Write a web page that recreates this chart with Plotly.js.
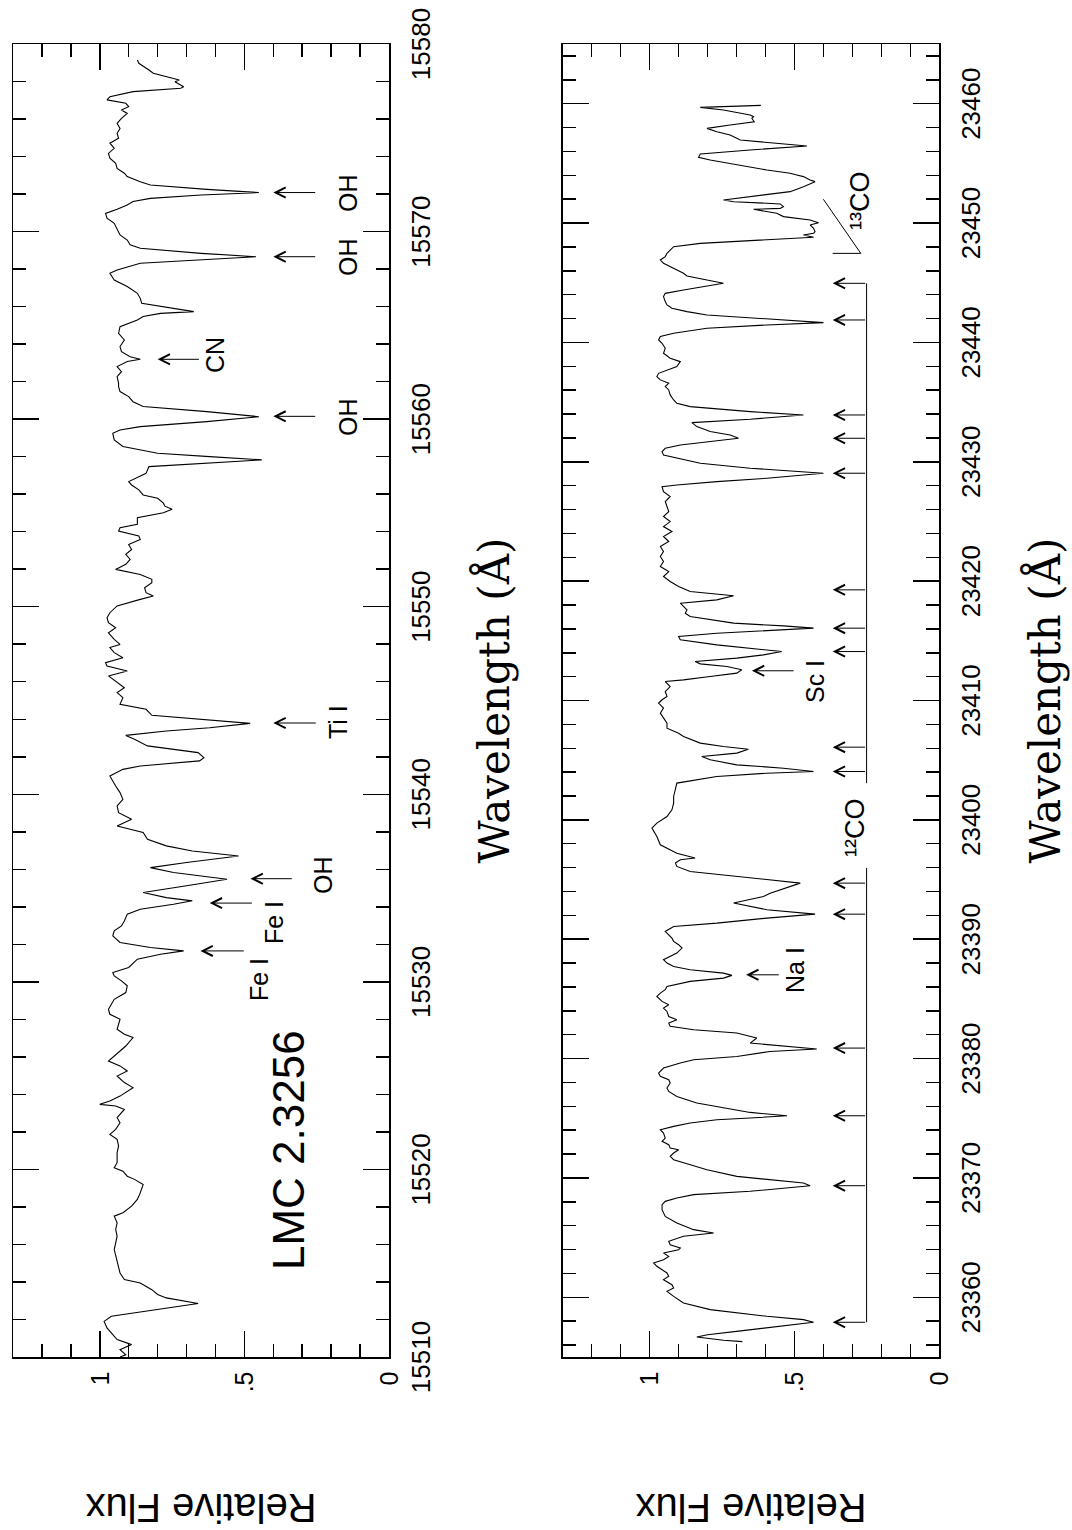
<!DOCTYPE html>
<html>
<head>
<meta charset="utf-8">
<script src="https://cdn.plot.ly/plotly-3.0.1.min.js"></script>
<style>
  html, body { margin: 0; padding: 0; background: #fff; }
  body { width: 1072px; height: 1530px; overflow: hidden; position: relative; }
  /* the chart is drawn landscape and turned a quarter turn, like the printed page */
  #chart {
    position: absolute; left: 0; top: 0;
    width: 1530px; height: 1072px;
    transform-origin: 0 0;
    transform: translate(0px, 1530px) rotate(-90deg);
  }
</style>
</head>
<body>
<div id="chart"></div>
<script>
// top panel: LMC 2.3256, H band
var wave1 = [
  15510.00,15510.12,15510.39,15510.66,15510.93,15511.28,15511.55,15511.90,15512.17,15512.85,
  15513.15,15513.33,15513.59,15513.95,15514.13,15514.48,15514.84,15515.20,15515.73,15516.09,
  15516.44,15516.80,15517.15,15517.51,15517.69,15518.04,15518.40,15518.75,15519.20,15519.47,
  15519.64,15519.91,15520.09,15520.36,15520.89,15521.25,15521.60,15521.87,15522.14,15522.49,
  15522.76,15523.20,15523.38,15523.47,15523.65,15523.91,15524.36,15524.63,15524.98,15525.25,
  15525.52,15525.78,15526.05,15526.58,15527.03,15527.21,15527.47,15528.01,15528.27,15528.54,
  15529.07,15529.43,15529.79,15530.05,15530.32,15530.50,15530.77,15531.21,15531.47,15531.65,
  15531.83,15532.10,15532.45,15532.72,15532.98,15533.25,15533.61,15533.87,15534.14,15534.32,
  15534.49,15534.76,15535.12,15535.47,15535.83,15536.09,15536.36,15536.71,15536.98,15537.25,
  15537.60,15537.96,15538.31,15538.67,15539.02,15539.38,15539.73,15540.09,15540.44,15540.98,
  15541.33,15541.51,15541.78,15541.95,15542.22,15542.58,15542.93,15543.14,15543.37,15543.55,
  15543.78,15544.00,15544.21,15544.53,15544.80,15545.15,15545.42,15545.68,15545.95,15546.31,
  15546.57,15546.84,15547.02,15547.28,15547.55,15547.82,15547.99,15548.26,15548.61,15548.88,
  15549.15,15549.41,15549.68,15550.04,15550.39,15550.57,15550.75,15551.01,15551.28,15551.46,
  15551.72,15551.99,15552.26,15552.52,15552.79,15553.05,15553.32,15553.59,15553.77,15554.03,
  15554.21,15554.39,15554.56,15554.74,15555.01,15555.19,15555.36,15555.52,15555.78,15555.96,
  15556.23,15556.49,15556.67,15556.94,15557.11,15557.47,15557.65,15557.83,15558.00,15558.18,
  15558.54,15558.89,15559.25,15559.42,15559.60,15559.87,15560.13,15560.40,15560.67,15560.93,
  15561.20,15561.47,15561.73,15561.91,15562.27,15562.53,15562.80,15563.07,15563.19,15563.33,
  15563.60,15563.87,15564.22,15564.58,15564.93,15565.29,15565.47,15565.64,15565.73,15565.91,
  15566.18,15566.44,15566.71,15567.07,15567.42,15567.78,15567.95,15568.31,15568.49,15568.66,
  15568.84,15569.11,15569.29,15569.55,15569.82,15570.09,15570.44,15570.71,15570.97,15571.19,
  15571.42,15571.60,15571.77,15571.95,15572.08,15572.25,15572.48,15572.66,15572.93,15573.11,
  15573.37,15573.64,15573.91,15574.17,15574.44,15574.71,15574.97,15575.24,15575.50,15575.77,
  15576.04,15576.30,15576.48,15576.66,15576.84,15577.02,15577.19,15577.46,15577.64,15577.72,
  15577.81,15577.99,15578.08,15578.26,15578.44,15578.61,15578.79,15578.97,15579.15
];
var flux1 = [
  .93,.91,.93,.89,.94,.96,.975,.985,.96,.66,
  .77,.80,.82,.86,.915,.93,.935,.94,.95,.945,
  .94,.945,.94,.95,.92,.89,.87,.86,.85,.88,
  .905,.92,.95,.94,.94,.935,.94,.965,.945,.93,
  .94,.915,.945,1.0,.965,.93,.885,.915,.94,.905,
  .93,.97,.95,.91,.885,.915,.94,.93,.965,.97,
  .95,.91,.905,.925,.95,.955,.90,.87,.79,.71,
  .825,.93,.955,.95,.925,.915,.905,.86,.745,.68,
  .77,.85,.70,.56,.745,.825,.70,.52,.68,.77,
  .835,.85,.94,.89,.935,.94,.92,.93,.945,.965,
  .92,.86,.655,.64,.66,.835,.88,.91,.77,.62,
  .48,.66,.82,.84,.93,.92,.94,.915,.94,.97,
  .905,.975,.98,.92,.95,.965,.93,.95,.97,.945,
  .97,.975,.965,.94,.86,.815,.84,.845,.82,.82,
  .86,.945,.91,.895,.91,.89,.90,.86,.865,.935,
  .93,.87,.87,.87,.78,.75,.775,.78,.80,.85,
  .865,.89,.90,.86,.84,.83,.65,.44,.62,.80,
  .92,.95,.955,.93,.86,.63,.45,.63,.85,.885,
  .90,.93,.935,.935,.94,.925,.94,.905,.86,.895,
  .925,.93,.915,.935,.93,.87,.85,.79,.675,.745,
  .855,.86,.87,.905,.95,.965,.94,.86,.65,.46,
  .65,.86,.895,.905,.93,.94,.95,.975,.98,.94,
  .905,.885,.825,.65,.45,.63,.825,.86,.905,.915,
  .94,.945,.965,.97,.95,.965,.935,.94,.93,.94,
  .925,.905,.925,.90,.91,.975,.965,.885,.72,.71,
  .72,.74,.725,.77,.815,.83,.85,.865,.87
];

// bottom panel: K band
var wave2 = [
  23356.29,23356.40,23356.68,23356.87,23357.15,23357.57,23357.91,23358.13,23358.41,23358.97,
  23359.53,23360.08,23360.50,23360.78,23361.06,23361.48,23361.76,23362.04,23362.32,23362.60,
  23362.88,23363.15,23363.43,23363.71,23363.99,23364.13,23364.41,23364.69,23365.11,23365.39,
  23365.67,23366.23,23366.78,23367.34,23367.76,23368.04,23368.32,23368.60,23368.88,23369.35,
  23369.58,23369.85,23370.13,23370.69,23371.25,23371.53,23371.81,23372.09,23372.37,23372.51,
  23372.79,23373.07,23373.34,23373.76,23374.04,23374.32,23374.60,23374.88,23375.02,23375.21,
  23375.49,23375.86,23376.28,23376.83,23377.25,23377.53,23377.95,23378.23,23378.51,23378.79,
  23379.21,23379.63,23379.91,23380.18,23380.60,23380.80,23381.02,23381.30,23381.72,23382.14,
  23382.42,23382.70,23382.98,23383.26,23383.53,23383.95,23384.23,23384.51,23384.79,23385.21,
  23385.49,23385.77,23386.05,23386.47,23386.74,23386.97,23387.16,23387.44,23387.72,23388.00,
  23388.28,23388.56,23388.84,23389.26,23389.54,23389.82,23390.09,23390.37,23390.65,23391.07,
  23391.35,23391.77,23392.10,23392.47,23393.03,23393.58,23393.86,23394.70,23395.68,23396.10,
  23396.38,23396.66,23396.80,23397.21,23397.91,23398.61,23399.31,23399.73,23400.28,23400.84,
  23401.40,23401.96,23402.52,23403.08,23403.63,23403.91,23404.05,23404.33,23404.61,23405.03,
  23405.31,23405.59,23405.92,23406.15,23406.43,23406.98,23407.26,23407.68,23408.10,23408.52,
  23408.94,23409.36,23409.78,23410.06,23410.34,23410.75,23411.17,23411.59,23411.73,23412.01,
  23412.29,23412.57,23412.85,23413.07,23413.27,23413.55,23413.82,23414.10,23414.38,23414.66,
  23415.08,23415.36,23415.64,23415.92,23416.06,23416.25,23416.48,23417.04,23417.31,23417.59,
  23417.87,23418.15,23418.43,23418.77,23419.13,23419.55,23419.97,23420.39,23420.80,23421.22,
  23421.64,23422.06,23422.48,23422.90,23423.32,23423.74,23424.15,23424.57,23424.99,23425.41,
  23425.83,23426.25,23426.67,23427.09,23427.50,23427.92,23428.06,23428.34,23428.62,23429.04,
  23429.46,23429.88,23430.30,23430.57,23430.85,23431.13,23431.41,23431.69,23431.97,23432.25,
  23432.53,23432.95,23433.28,23433.56,23433.92,23434.20,23434.62,23434.90,23435.18,23435.60,
  23436.02,23436.30,23436.58,23436.86,23437.14,23437.41,23437.69,23437.97,23438.39,23438.67,
  23439.09,23439.51,23439.93,23440.21,23440.49,23440.77,23441.18,23441.46,23441.66,23441.94,
  23442.30,23442.58,23442.86,23443.14,23443.42,23443.84,23444.11,23444.39,23444.67,23444.95,
  23445.23,23445.57,23445.79,23446.07,23446.35,23446.63,23446.91,23447.19,23447.47,23448.02,
  23448.30,23448.58,23448.81,23449.00,23449.14,23449.28,23449.56,23449.84,23450.03,23450.26,
  23450.54,23450.82,23451.04,23451.15,23451.23,23451.37,23451.60,23451.79,23451.93,23452.07,
  23452.35,23452.63,23453.05,23453.47,23453.61,23453.89,23454.03,23454.17,23454.44,23454.86,
  23455.28,23455.51,23455.78,23456.12,23456.45,23456.96,23457.10,23457.38,23457.65,23457.93,
  23458.21,23458.49,23458.77,23458.91,23459.05,23459.47,23459.69,23459.86
];
var flux2 = [
  .68,.745,.837,.80,.70,.54,.434,.469,.595,.791,
  .883,.917,.94,.917,.923,.952,.934,.94,.957,.975,
  .986,.952,.934,.952,.90,.894,.929,.934,.883,.779,
  .848,.906,.946,.957,.957,.946,.906,.848,.653,.446,
  .469,.584,.699,.802,.883,.917,.929,.917,.90,.929,
  .934,.957,.946,.952,.963,.917,.86,.768,.653,.526,
  .653,.745,.837,.906,.934,.94,.929,.934,.963,.969,
  .952,.894,.848,.699,.584,.423,.538,.653,.63,.699,
  .848,.929,.934,.906,.934,.94,.952,.934,.957,.975,
  .963,.946,.94,.86,.745,.716,.745,.86,.917,.94,
  .952,.929,.906,.888,.90,.917,.923,.934,.946,.917,
  .768,.595,.429,.595,.71,.607,.584,.48,.86,.906,
  .911,.894,.843,.906,.963,.975,.992,.975,.94,.923,
  .917,.917,.911,.906,.768,.595,.434,.538,.699,.791,
  .82,.699,.659,.745,.825,.883,.90,.94,.94,.952,
  .963,.952,.969,.957,.94,.946,.929,.946,.883,.791,
  .699,.682,.733,.825,.843,.699,.607,.544,.653,.768,
  .894,.90,.768,.538,.434,.538,.71,.86,.877,.871,
  .883,.894,.768,.71,.86,.90,.929,.952,.934,.963,
  .952,.963,.952,.963,.934,.952,.923,.952,.929,.952,
  .934,.94,.946,.929,.952,.957,.906,.768,.595,.40,
  .653,.825,.906,.952,.957,.946,.894,.802,.693,.722,
  .791,.837,.854,.653,.469,.653,.86,.906,.917,.929,
  .934,.946,.934,.963,.975,.969,.934,.906,.894,.929,
  .952,.946,.957,.969,.963,.917,.802,.595,.40,.595,
  .802,.871,.923,.94,.946,.952,.946,.883,.814,.745,
  .802,.871,.883,.906,.929,.952,.963,.946,.94,.917,
  .825,.595,.434,.469,.434,.429,.434,.446,.417,.446,
  .538,.561,.607,.641,.549,.538,.549,.71,.745,.699,
  .595,.515,.469,.429,.446,.469,.492,.515,.595,.699,
  .791,.831,.825,.653,.457,.687,.699,.722,.768,.802,
  .722,.639,.647,.641,.653,.745,.825,.616
];

// axis ticks
var tickWave1 = [15510,15520,15530,15540,15550,15560,15570,15580];
var tickWave2 = [23360,23370,23380,23390,23400,23410,23420,23430,23440,23450,23460];
var tickFlux = [0, 0.5, 1];
var tickFluxText = ['0', '.5', '1'];

// line identifications
var idName1 = ['Fe I','Fe I','OH','Ti I','OH','CN','OH','OH'];
var idWave1 = [15531.65,15534.20,15535.50,15543.80,15560.15,15563.19,15568.66,15572.08];
var coWave = [23357.91,23369.35,23375.21,23380.88,23392.10,23394.70,23404.05,23406.09,
              23414.10,23416.06,23419.27,23429.04,23431.97,23433.92,23441.88,23444.95];
var idName2 = ['Na I','Sc I'];
var idWave2 = [23387.02,23412.49];

// where the arrows start/stop and where the names sit (flux units)
var idHead1 = [.652,.62,.479,.40,.40,.80,.40,.40];
var idTail1 = [.497,.469,.331,.248,.25,.652,.25,.25];
var idText1 = [[15530.11,.448],[15533.18,.397],[15535.67,.229],[15543.88,.178],
               [15560.14,.143],[15563.43,.60],[15568.67,.143],[15572.05,.143]];
var idHead2 = [.667,.647];
var idTail2 = [.549,.498];
var idText2 = [[23387.45,.498],[23411.58,.429]];
var coHead = .368, coTail = .251;

var W = 1530, H = 1072;
var plotL = 173, plotR = 1486;
var sans = 'Liberation Sans, Arial, Helvetica, sans-serif';
var serif = 'DejaVu Serif, Liberation Serif, serif';

function waveAxis(range, ticks, anchor) {
    return {
        domain: [plotL / W, plotR / W],
        anchor: anchor,
        range: range,
        tickmode: 'array',
        tickvals: ticks,
        ticktext: ticks.map(String),
        ticks: 'inside',
        ticklen: 26,
        tickwidth: 1.5,
        tickcolor: '#000',
        minor: {ticks: 'inside', tickmode: 'linear', tick0: ticks[0], dtick: 2,
                ticklen: 13, tickwidth: 1.5, tickcolor: '#000'},
        showline: true,
        linewidth: 1.5,
        linecolor: '#000',
        mirror: 'ticks',
        showgrid: false,
        zeroline: false,
        tickangle: 0,
        ticklabelstandoff: 8,
        automargin: false,
        tickfont: {family: sans, size: 26, color: '#000'},
        title: {text: 'Wavelength (\u00C5)', standoff: 45,
                font: {family: serif, size: 42, color: '#000'}}
    };
}

function fluxAxis(top, bottom, anchor) {
    return {
        domain: [1 - bottom / H, 1 - top / H],
        anchor: anchor,
        range: [0, 1.3],
        tickmode: 'array',
        tickvals: tickFlux,
        ticktext: tickFluxText,
        ticks: 'inside',
        ticklen: 26,
        tickwidth: 1.5,
        tickcolor: '#000',
        minor: {ticks: 'inside', tickmode: 'linear', tick0: 0, dtick: 0.1,
                ticklen: 13, tickwidth: 1.5, tickcolor: '#000'},
        showline: true,
        linewidth: 1.5,
        linecolor: '#000',
        mirror: 'ticks',
        showgrid: false,
        zeroline: false,
        ticklabelstandoff: 8,
        automargin: false,
        tickfont: {family: sans, size: 25, color: '#000'},
        title: {text: 'Relative Flux', standoff: 100,
                font: {family: sans, size: 40, color: '#000'}}
    };
}

var plotlyData = [
    {x: wave1, y: flux1, xaxis: 'x', yaxis: 'y', type: 'scatter', mode: 'lines',
     line: {color: '#000', width: 1.1}, hoverinfo: 'skip'},
    {x: wave2, y: flux2, xaxis: 'x2', yaxis: 'y2', type: 'scatter', mode: 'lines',
     line: {color: '#000', width: 1.1}, hoverinfo: 'skip'}
];

var annotations = [];
var shapes = [];

function arrow(xr, yr, wl, head, tail) {
    annotations.push({
        xref: xr, yref: yr, axref: xr, ayref: yr,
        x: wl, y: head, ax: wl, ay: tail,
        text: '', showarrow: true,
        arrowhead: 5, arrowsize: 2, arrowwidth: 1, arrowcolor: '#000', standoff: 0
    });
}

function label(xr, yr, x, y, text, size) {
    annotations.push({
        xref: xr, yref: yr, x: x, y: y, text: text, showarrow: false,
        xanchor: 'center', yanchor: 'middle',
        font: {family: sans, size: size, color: '#000'}
    });
}

for (var i = 0; i < idName1.length; i++) {
    arrow('x', 'y', idWave1[i], idHead1[i], idTail1[i]);
    label('x', 'y', idText1[i][0], idText1[i][1], idName1[i], 25);
}
label('x', 'y', 15521.05, 0.348, 'LMC 2.3256', 44);

for (var j = 0; j < idName2.length; j++) {
    arrow('x2', 'y2', idWave2[j], idHead2[j], idTail2[j]);
    label('x2', 'y2', idText2[j][0], idText2[j][1], idName2[j], 25);
}
for (var k = 0; k < coWave.length; k++) {
    arrow('x2', 'y2', coWave[k], coHead, coTail);
}
// 12CO bracket, broken where its name sits
shapes.push({type: 'line', xref: 'x2', yref: 'y2', x0: coWave[0], x1: 23395.96,
             y0: coTail, y1: coTail, line: {color: '#000', width: 1}});
shapes.push({type: 'line', xref: 'x2', yref: 'y2', x0: 23403.08, x1: coWave[coWave.length - 1],
             y0: coTail, y1: coTail, line: {color: '#000', width: 1}});
label('x2', 'y2', 23399.33, 0.29, '\u00B9\u00B2CO', 27);
// 13CO marker
shapes.push({type: 'path', xref: 'x2', yref: 'y2',
             path: 'M23447.46,0.368 L23447.46,0.271 L23451.99,0.40',
             line: {color: '#000', width: 1}});
label('x2', 'y2', 23451.85, 0.275, '\u00B9\u00B3CO', 27);

var plotlyLayout = {
    width: W,
    height: H,
    margin: {l: 0, r: 0, t: 0, b: 0, pad: 0},
    paper_bgcolor: '#fff',
    plot_bgcolor: '#fff',
    showlegend: false,
    xaxis: waveAxis([15510, 15580], tickWave1, 'y'),
    yaxis: fluxAxis(13, 389, 'x'),
    xaxis2: waveAxis([23355, 23465], tickWave2, 'y2'),
    yaxis2: fluxAxis(562.7, 939.3, 'x2'),
    annotations: annotations,
    shapes: shapes
};

var plotlyConfig = {staticPlot: true, displayModeBar: false, responsive: false};

Plotly.newPlot('chart', plotlyData, plotlyLayout, plotlyConfig);
</script>
</body>
</html>
